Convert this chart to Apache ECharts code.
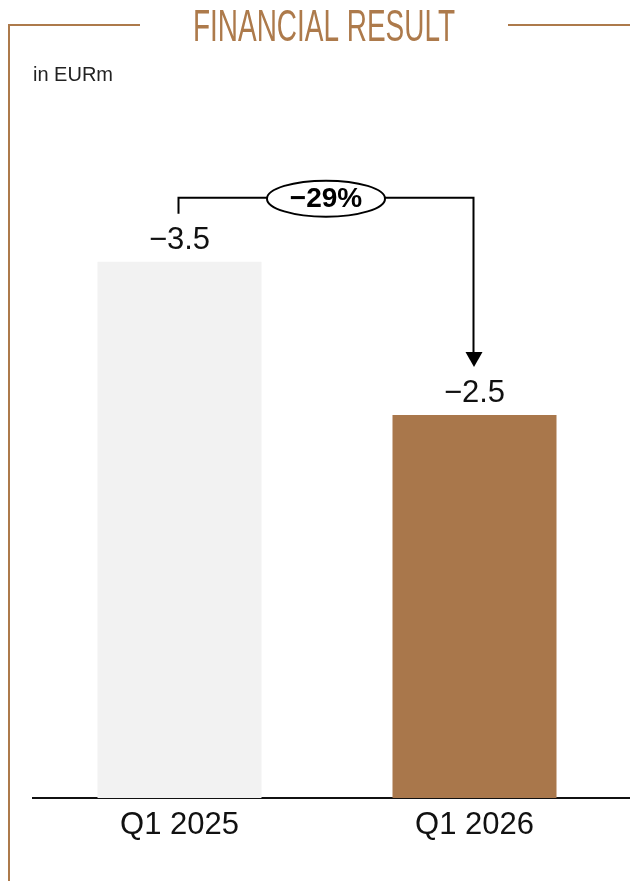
<!DOCTYPE html>
<html>
<head>
<meta charset="utf-8">
<script src="https://cdn.jsdelivr.net/npm/echarts@6/dist/echarts.min.js"></script>
<style>
  html, body { margin: 0; padding: 0; background: #ffffff; }
  #chart { width: 630px; height: 881px; }
</style>
</head>
<body>
<div id="chart"></div>
<script>
// Financial result, quarter comparison (EUR millions)
const categories = ['Q1 2025', 'Q1 2026'];
const values = [-3.5, -2.5];
const changeText = '\u221229%';
const titleText = 'FINANCIAL RESULT';
const unitText = 'in EURm';

const BRONZE = '#AD7A4B';
const barColors = ['#F2F2F2', '#A9774B'];
const fmt = v => (v < 0 ? '\u2212' : '') + Math.abs(v).toFixed(1);

const chart = echarts.init(document.getElementById('chart'), null, { renderer: 'canvas' });

const baseOption = {
  animation: false,
  backgroundColor: '#ffffff',
  grid: { left: 32, width: 590, top: 185, bottom: 83 },
  xAxis: {
    type: 'category',
    data: categories,
    axisLine: { show: false },
    axisTick: { show: false },
    axisLabel: {
      margin: 12,
      fontFamily: 'Liberation Sans, Arial, sans-serif',
      fontSize: 31,
      color: '#111111'
    }
  },
  yAxis: { type: 'value', min: 0, max: 4, show: false, splitLine: { show: false } },
  series: [{
    type: 'bar',
    barWidth: 164,
    data: values.map((v, i) => ({ value: Math.abs(v), itemStyle: { color: barColors[i] } })),
    label: {
      show: true,
      position: 'top',
      distance: 6,
      formatter: p => fmt(values[p.dataIndex]),
      fontFamily: 'Liberation Sans, Arial, sans-serif',
      fontSize: 31,
      color: '#111111'
    }
  }]
};
chart.setOption(baseOption);

// Condensed title: squeeze the heading horizontally to a fixed width
const titleFont = '44px "Liberation Sans Narrow", "Liberation Sans", sans-serif';
const measureCtx = document.createElement('canvas').getContext('2d');
measureCtx.font = titleFont;
const titleScaleX = 262 / measureCtx.measureText(titleText).width;

// Annotation bracket between the two bars, positioned from the axis scales
const p0 = chart.convertToPixel({ seriesIndex: 0 }, [0, Math.abs(values[0])]);
const p1 = chart.convertToPixel({ seriesIndex: 0 }, [1, Math.abs(values[1])]);
const base = chart.convertToPixel({ seriesIndex: 0 }, [0, 0]);
const topY = Math.min(p0[1], p1[1]) - 64;
const endGap = 48;
const midX = (p0[0] + p1[0]) / 2;
const tipY = p1[1] - endGap;

chart.setOption({
  graphic: [
    // frame lines
    { type: 'polyline', shape: { points: [[9, 881], [9, 25], [140, 25]] },
      style: { stroke: BRONZE, lineWidth: 2, fill: null } },
    { type: 'line', shape: { x1: 508, y1: 25, x2: 630, y2: 25 },
      style: { stroke: BRONZE, lineWidth: 2 } },
    { type: 'text', x: 324, y: 29, scaleX: titleScaleX, scaleY: 1,
      style: { text: titleText, font: titleFont,
               fill: BRONZE, textAlign: 'center', textVerticalAlign: 'middle' } },
    { type: 'text', x: 33, y: 75,
      style: { text: unitText, font: '20px "Liberation Sans", Arial, sans-serif',
               fill: '#222222', textAlign: 'left', textVerticalAlign: 'middle' } },
    // baseline
    { type: 'line', shape: { x1: 32, y1: base[1], x2: 630, y2: base[1] },
      style: { stroke: '#111111', lineWidth: 2 } },
    // bracket
    { type: 'polyline',
      shape: { points: [[p0[0] - 1, p0[1] - endGap], [p0[0] - 1, topY], [p1[0] - 1, topY], [p1[0] - 1, tipY - 14]] },
      style: { stroke: '#000000', lineWidth: 2, fill: null } },
    { type: 'polygon',
      shape: { points: [[p1[0] - 9, tipY - 15], [p1[0] + 8, tipY - 15], [p1[0] - 0.5, tipY]] },
      style: { fill: '#000000' } },
    { type: 'ellipse', shape: { cx: midX - 1, cy: topY + 1, rx: 59, ry: 18 },
      style: { fill: '#ffffff', stroke: '#000000', lineWidth: 2 } },
    { type: 'text', x: midX - 1, y: topY + 2,
      style: { text: changeText, font: 'bold 28px "Liberation Sans", Arial, sans-serif',
               fill: '#000000', textAlign: 'center', textVerticalAlign: 'middle' } }
  ]
});
</script>
</body>
</html>
